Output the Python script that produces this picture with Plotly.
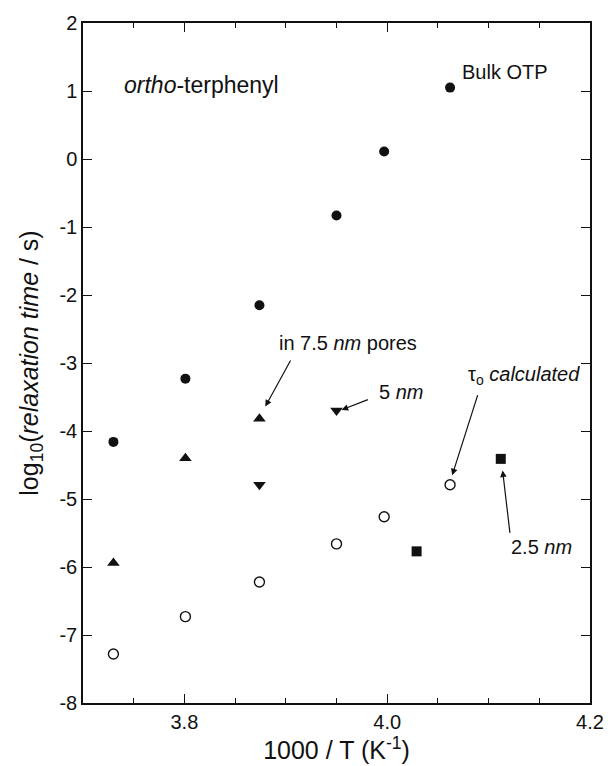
import plotly.graph_objects as go

# 1000/T (K^-1) and log10(relaxation time / s)
x_bulk = [3.730, 3.801, 3.874, 3.950, 3.997, 4.062]
y_bulk = [-4.16, -3.23, -2.15, -0.83, 0.11, 1.05]

x_pore75 = [3.730, 3.801, 3.874]
y_pore75 = [-5.94, -4.40, -3.82]

x_pore5 = [3.874, 3.950]
y_pore5 = [-4.79, -3.70]

x_pore25 = [4.029, 4.112]
y_pore25 = [-5.77, -4.41]

x_tau0 = [3.730, 3.801, 3.874, 3.950, 3.997, 4.062]
y_tau0 = [-7.28, -6.73, -6.22, -5.66, -5.26, -4.79]

x_tickvals = [3.8, 4.0, 4.2]
x_ticktext = ["3.8", "4.0", "4.2"]
y_tickvals = [2, 1, 0, -1, -2, -3, -4, -5, -6, -7, -8]
y_ticktext = ["2", "1", "0", "-1", "-2", "-3", "-4", "-5", "-6", "-7", "-8"]

FONT = "Liberation Sans, Arial, sans-serif"
INK = "#111111"

fig = go.Figure()

def add_series(xs, ys, symbol, size, filled=True):
    fig.add_trace(go.Scatter(
        x=xs, y=ys, mode="markers",
        marker=dict(
            symbol=symbol, size=size,
            color=INK if filled else "white",
            line=dict(color=INK, width=0 if filled else 1.4),
        ),
        showlegend=False, hoverinfo="x+y",
    ))

add_series(x_bulk, y_bulk, "circle", 10)
add_series(x_pore75, y_pore75, "triangle-up", 11)
add_series(x_pore5, y_pore5, "triangle-down", 11)
add_series(x_pore25, y_pore25, "square", 10)
add_series(x_tau0, y_tau0, "circle", 10, filled=False)

# text labels
labels = [
    (3.738, 1.09, "<i>ortho</i>-terphenyl", 23),
    (4.072, 1.28, "Bulk OTP", 20),
    (3.891, -2.70, "in 7.5 <i>nm</i> pores", 20),
    (3.990, -3.42, "5 <i>nm</i>", 20),
    (4.078, -3.18, "τ<sub>o</sub> <i>calculated</i>", 20),
    (4.120, -5.71, "2.5 <i>nm</i>", 20),
]
for lx, ly, txt, fs in labels:
    fig.add_annotation(x=lx, y=ly, text=txt, showarrow=False,
                       xanchor="left", yanchor="middle",
                       font=dict(family=FONT, size=fs, color=INK))

# pointer arrows: (head x, head y, tail x, tail y)
arrows = [
    (3.8798, -3.64, 3.9055, -2.94),
    (3.9550, -3.69, 3.9824, -3.53),
    (4.0641, -4.65, 4.0897, -3.45),
    (4.1138, -4.58, 4.1212, -5.52),
]
for hx, hy, tx, ty in arrows:
    fig.add_annotation(x=hx, y=hy, ax=tx, ay=ty, xref="x", yref="y",
                       axref="x", ayref="y", text="", showarrow=True,
                       arrowhead=2, arrowsize=1.1, arrowwidth=1.2,
                       arrowcolor=INK, standoff=0, startstandoff=0)

axis_common = dict(
    showline=True, linecolor=INK, linewidth=1.5, mirror="allticks",
    ticks="inside", tickcolor=INK, tickwidth=1.3, ticklen=9,
    showgrid=False, zeroline=False,
    tickfont=dict(family=FONT, size=20, color=INK),
)

fig.update_xaxes(
    range=[3.70, 4.20], tickvals=x_tickvals, ticktext=x_ticktext,
    minor=dict(ticks="inside", dtick=0.05, tick0=3.7, ticklen=5,
               tickcolor=INK, tickwidth=1.2),
    title=dict(text="1000 / T (K<sup>-1</sup>)",
               font=dict(family=FONT, size=25, color=INK), standoff=4),
    **axis_common,
)
fig.update_yaxes(
    range=[-8, 2], tickvals=y_tickvals, ticktext=y_ticktext,
    title=dict(text="log<sub>10</sub>(<i>relaxation time</i> / s)",
               font=dict(family=FONT, size=25, color=INK), standoff=14),
    **axis_common,
)

fig.update_layout(
    width=616, height=766,
    margin=dict(l=83, r=15, t=13, b=61),
    plot_bgcolor="white", paper_bgcolor="white",
    font=dict(family=FONT, color=INK),
)

fig.write_html("out.html")
